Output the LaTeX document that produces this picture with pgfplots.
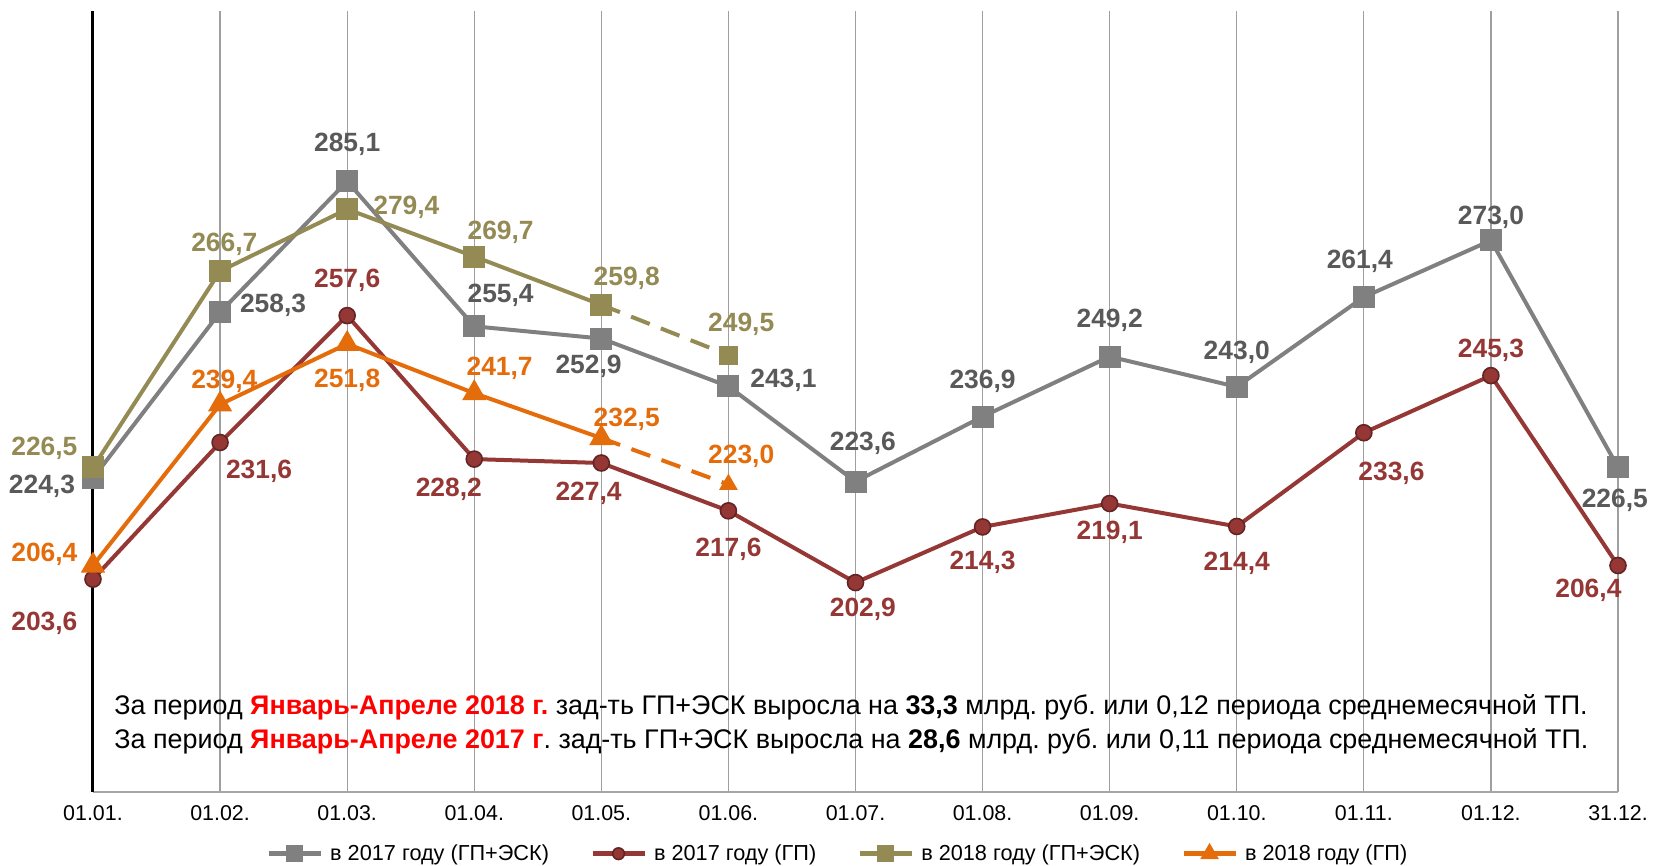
\documentclass[border=0pt]{standalone}
\usepackage{pgfplots}
\usepackage{pgfplotstable}
\pgfplotsset{compat=1.18}
\usepackage{fontspec}
\setmainfont{Liberation Sans}
\frenchspacing
\definecolor{cgray}{HTML}{808080}
\definecolor{cgraytxt}{HTML}{595959}
\definecolor{cred}{HTML}{953735}
\definecolor{credd}{HTML}{632523}
\definecolor{colive}{HTML}{948A54}
\definecolor{corange}{HTML}{E46C0A}
\definecolor{ctred}{HTML}{FF0000}

\pgfplotstableread{
x y dx dy
0 224.3 -25.5 -4.2
1 258.3 26.5 3.2
2 285.1 0 18.5
3 255.4 13.2 15.3
4 252.9 -6.4 -13.8
5 243.1 27.5 3.2
6 223.6 3.7 19
7 236.9 0 17.5
8 249.2 0 18
9 243.0 0 17.5
10 261.4 -2 18
11 273.0 0 11.6
12 226.5 -1.6 -16.4
}\grayA

\pgfplotstableread{
x y dx dy
0 203.6 -24.3 -22.2
1 231.6 19.5 -14.3
2 257.6 0 17.5
3 228.2 -12.7 -15.3
4 227.4 -6.4 -15.3
5 217.6 0 -19
6 202.9 3.7 -13.2
7 214.3 0 -17.5
8 219.1 0 -14.3
9 214.4 0 -18.5
10 233.6 13.8 -20.1
11 245.3 0 12.7
12 206.4 -14.8 -12.2
}\redA

\pgfplotstableread{
x y dx dy
0 226.5 -24.3 9.5
1 266.7 2.1 13.2
2 279.4 29.6 1
3 269.7 13.2 12.2
4 259.8 12.7 13.2
}\oliveA

\pgfplotstableread{
x y
4 259.8
5 249.5
}\oliveD

\pgfplotstableread{
x y dx dy
5 249.5 6.4 15.3
}\oliveE

\pgfplotstableread{
x y dx dy
0 206.4 -24.3 5.8
1 239.4 2.1 11.6
2 251.8 0 -18
3 241.7 12.7 12.2
4 232.5 12.7 9.5
}\orangeA

\pgfplotstableread{
x y
4 232.5
5 223.0
}\orangeD

\pgfplotstableread{
x y dx dy
5 223.0 6.4 14.2
}\orangeE

\pgfplotsset{
  lbl/.style={
    nodes near coords,
    point meta=y,
    visualization depends on={\thisrow{dx}\as\labdx},
    visualization depends on={\thisrow{dy}\as\labdy},
    every node near coord/.append style={anchor=center, xshift=\labdx pt, yshift=\labdy pt,
      font=\fontsize{13.2}{15}\selectfont\bfseries, text=#1, inner sep=0pt},
  },
}

\begin{document}
\begin{tikzpicture}
\begin{axis}[
  name=ax,
  scale only axis,
  width=762.5pt, height=390.5pt,
  xmin=0, xmax=12, ymin=160, ymax=320,
  axis x line=bottom, axis y line=left,
  x axis line style={-, draw=gray!70, line width=0.8pt},
  y axis line style={-, draw=black, line width=1.5pt},
  ytick=\empty,
  xtick={0,...,12},
  xticklabels={01.01.,01.02.,01.03.,01.04.,01.05.,01.06.,01.07.,01.08.,01.09.,01.10.,01.11.,01.12.,31.12.},
  major tick length=0pt,
  xmajorgrids,
  grid style={draw=gray!75, line width=0.6pt},
  xticklabel style={font=\fontsize{10.7}{12}\selectfont, yshift=-3pt},
  clip=false,
  legend columns=4,
  legend style={at={(0.49,-0.079)}, anchor=center, draw=none, fill=none,
    font=\fontsize{10.85}{12}\selectfont, inner sep=0pt,
    nodes={inner ysep=1pt, inner xsep=3.5pt},
    /tikz/every even column/.append style={column sep=17pt}},
  legend image code/.code={\draw[mark repeat=2,mark phase=2,line width=2.5pt,mark size=2.9pt] plot coordinates {(0pt,0pt)(13pt,0pt)(26pt,0pt)};},
  /pgf/number format/use comma,
  /pgf/number format/fixed,
  /pgf/number format/fixed zerofill,
  /pgf/number format/precision=1,
  /pgf/number format/assume math mode=true,
]
\addplot[cgray, line width=2pt, mark=square*, mark size=4.5pt, mark options={solid, fill=cgray, draw=cgray}, lbl=cgraytxt] table[x=x,y=y] {\grayA};
\addlegendentry{в 2017 году (ГП+ЭСК)}
\addplot[cred, line width=2pt, mark=*, mark size=4pt, mark options={solid, fill=cred, draw=credd, line width=0.8pt}, lbl=cred] table[x=x,y=y] {\redA};
\addlegendentry{в 2017 году (ГП)}
\addplot[colive, line width=2pt, mark=square*, mark size=4.5pt, mark options={solid, fill=colive, draw=colive}, lbl=colive] table[x=x,y=y] {\oliveA};
\addlegendentry{в 2018 году (ГП+ЭСК)}
\addplot[corange, line width=2pt, mark=triangle*, mark size=5pt, mark options={solid, fill=corange, draw=corange}, lbl=corange] table[x=x,y=y] {\orangeA};
\addlegendentry{в 2018 году (ГП)}

\addplot[forget plot, colive, line width=2pt, dash pattern=on 10pt off 6pt, no marks] table[x=x,y=y] {\oliveD};
\addplot[forget plot, only marks, colive, mark=square*, mark size=4.5pt, mark options={solid, fill=colive, draw=colive}, lbl=colive] table[x=x,y=y] {\oliveE};
\addplot[forget plot, corange, line width=2pt, dash pattern=on 10pt off 6pt, no marks] table[x=x,y=y] {\orangeD};
\addplot[forget plot, only marks, corange, mark=triangle*, mark size=5pt, mark options={solid, fill=corange, draw=corange}, lbl=corange] table[x=x,y=y] {\orangeE};

\node[anchor=west, inner sep=0pt, font=\fontsize{13.45}{15}\selectfont] at (axis description cs:0.0138,0.109)
  {За период \textbf{\textcolor{ctred}{Январь-Апреле 2018 г.}} зад-ть ГП+ЭСК выросла на \textbf{33,3} млрд. руб. или 0,12 периода среднемесячной ТП.};
\node[anchor=west, inner sep=0pt, font=\fontsize{13.45}{15}\selectfont] at (axis description cs:0.0138,0.0655)
  {За период \textbf{\textcolor{ctred}{Январь-Апреле 2017 г}}. зад-ть ГП+ЭСК выросла на \textbf{28,6} млрд. руб. или 0,11 периода среднемесячной ТП.};
\end{axis}
\pgfresetboundingbox
\useasboundingbox ([xshift=-46.5pt,yshift=-37pt]ax.south west) rectangle ([xshift=21pt,yshift=5.5pt]ax.north east);
\end{tikzpicture}
\end{document}
